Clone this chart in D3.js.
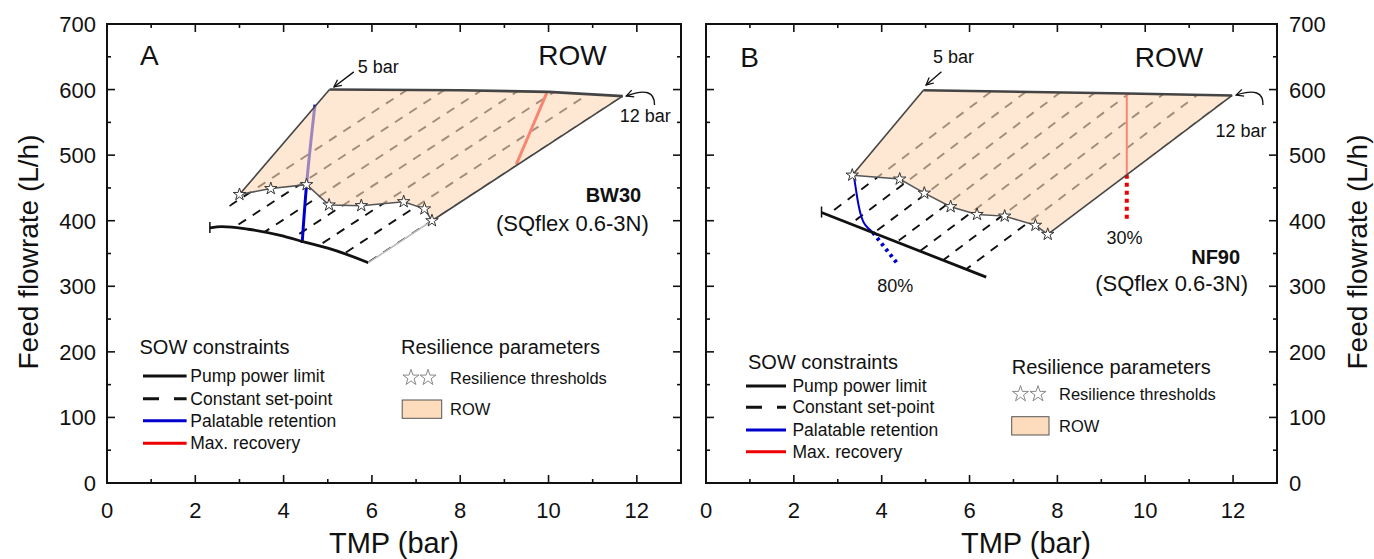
<!DOCTYPE html>
<html>
<head>
<meta charset="utf-8">
<script src="https://cdn.jsdelivr.net/npm/d3@7"></script>
<style>
  body { margin: 0; background: #fff; }
  svg { display: block; }
  text { font-family: "Liberation Sans", Arial, sans-serif; fill: #111; }
</style>
</head>
<body>
<svg id="chart" width="1374" height="559"></svg>
<script>
// ---------- shared axes ----------
const xTickLabels = [0, 2, 4, 6, 8, 10, 12];
const yTickLabels = [0, 100, 200, 300, 400, 500, 600, 700];

// ---------- Panel A : BW30 ----------
const topEdgeA    = [[5.04, 600], [8, 599], [10, 596.5], [11.68, 590]];          // 5 bar -> 12 bar
const pumpA       = [[2.33, 389], [2.6, 391], [3.2, 387], [3.9, 378], [4.5, 367], [5.2, 354], [5.92, 336]];
const thresholdsA = [[3.0, 440], [3.71, 449], [4.52, 455], [5.03, 424], [5.76, 423], [6.72, 429], [7.19, 418], [7.36, 400]];
const retentionA  = [[4.71, 577], [4.52, 455], [4.42, 366]];
const recoveryA   = [[9.96, 595], [9.6, 538], [9.27, 486]];
const setpointTmpA = [2.26, 3.11, 3.96, 4.81, 5.66, 6.51, 7.36];                 // TMP at 400 L/h
const setpointSlopeA = 44;                                                       // L/h per bar

// ---------- Panel B : NF90 ----------
const topEdgeB    = [[4.95, 599], [9.6, 594], [11.98, 591]];
const pumpB       = [[2.63, 412.5], [6.38, 314]];
const thresholdsB = [[3.33, 469.5], [4.41, 463.5], [4.97, 442], [5.57, 421.4], [6.17, 409.5], [6.8, 407], [7.5, 393], [7.78, 379.2]];
const retentionB  = [[3.37, 467], [3.42, 445], [3.47, 425], [3.53, 408], [3.62, 394], [3.77, 384], [3.9, 378]];
const retentionExtB = [[3.8, 382], [4.34, 336]];
const recoveryB   = [[9.58, 594], [9.58, 470]];
const recoveryExtB = [[9.58, 470], [9.58, 402]];
const setpointTmpB = [2.59, 3.39, 4.19, 4.99, 5.79, 6.59, 7.39, 8.19];
const setpointSlopeB = 50.5;

const svg = d3.select("#chart");
const defs = svg.append("defs");

defs.append("marker").attr("id", "openArrow")
  .attr("viewBox", "0 0 10 10").attr("refX", 9).attr("refY", 5)
  .attr("markerWidth", 9).attr("markerHeight", 9).attr("markerUnits", "userSpaceOnUse")
  .attr("orient", "auto")
  .append("path").attr("d", "M1,1 L9,5 L1,9").attr("fill", "none")
  .attr("stroke", "#111").attr("stroke-width", 1.4);

const ROW_FILL = "#fdd9b8";
const line = d3.line();

function drawPanel(cfg) {
  const x = d3.scaleLinear().domain([0, 13]).range(cfg.xr);
  const y = d3.scaleLinear().domain([0, 700]).range([483, 24]);
  const g = svg.append("g");
  const P = pts => pts.map(d => [x(d[0]), y(d[1])]);

  // operating window (region used for set-point lines)
  const region = [...cfg.topEdge, ...cfg.pump.slice().reverse()];
  const clipId = "clip" + cfg.id;
  defs.append("clipPath").attr("id", clipId)
    .append("path").attr("d", line(P(region)) + "Z");

  // constant set-point lines
  const sp = g.append("g").attr("clip-path", `url(#${clipId})`);
  cfg.setpoints.forEach(t => {
    const a = [t - 4, 400 - 4 * cfg.slope], b = [t + 8, 400 + 8 * cfg.slope];
    sp.append("path").attr("d", line(P([a, b])))
      .attr("stroke", "#111").attr("stroke-width", 1.9)
      .attr("stroke-dasharray", "9,8").attr("fill", "none");
  });

  // palatable retention & max recovery
  g.append("path").attr("d", line.curve(d3.curveMonotoneY)(P(cfg.retention)))
    .attr("stroke", "#0000cc").attr("stroke-width", cfg.retW).attr("fill", "none");
  line.curve(d3.curveLinear);
  if (cfg.retentionExt) g.append("path").attr("d", line(P(cfg.retentionExt)))
    .attr("stroke", "#0000cc").attr("stroke-width", 4).attr("stroke-dasharray", "3,4").attr("fill", "none");
  g.append("path").attr("d", line(P(cfg.recovery)))
    .attr("stroke", "#ee0000").attr("stroke-width", cfg.recW).attr("fill", "none");
  if (cfg.recoveryExt) g.append("path").attr("d", line(P(cfg.recoveryExt)))
    .attr("stroke", "#ee0000").attr("stroke-width", 4).attr("stroke-dasharray", "4,4").attr("fill", "none");

  // ROW area
  const th = cfg.thresholds;
  const row = [th[0], ...cfg.topEdge, ...th.slice().reverse()];
  g.append("path").attr("d", line(P(row)) + "Z")
    .attr("fill", ROW_FILL).attr("fill-opacity", 0.62).attr("stroke", "none");

  // pump power limit
  g.append("path").attr("d", line.curve(d3.curveMonotoneX)(P(cfg.pump)))
    .attr("stroke", "#111").attr("stroke-width", 2.8).attr("fill", "none");
  line.curve(d3.curveLinear);
  const p0 = P([cfg.pump[0]])[0];
  g.append("line").attr("x1", p0[0]).attr("x2", p0[0]).attr("y1", p0[1] - 6).attr("y2", p0[1] + 5)
    .attr("stroke", "#111").attr("stroke-width", 1.5);

  // ROW boundaries
  const last = cfg.topEdge[cfg.topEdge.length - 1];
  g.append("path").attr("d", line(P(cfg.topEdge))).attr("stroke", "#444").attr("stroke-width", 2.6).attr("fill", "none");
  g.append("path").attr("d", line(P([th[0], cfg.topEdge[0]]))).attr("stroke", "#444").attr("stroke-width", 1.6).attr("fill", "none");
  g.append("path").attr("d", line(P([last, th[th.length - 1]]))).attr("stroke", "#444").attr("stroke-width", 1.6).attr("fill", "none");
  if (cfg.lowerEdge) g.append("path").attr("d", line(P([th[th.length - 1], cfg.pump[cfg.pump.length - 1]])))
    .attr("stroke", "#bbb").attr("stroke-width", 1.6).attr("fill", "none");
  g.append("path").attr("d", line(P(th))).attr("stroke", "#555").attr("stroke-width", 1.5).attr("fill", "none");

  // resilience thresholds
  g.selectAll(".star").data(th).join("path")
    .attr("transform", d => `translate(${x(d[0])},${y(d[1])})`)
    .attr("d", d3.symbol(d3.symbolStar, 48))
    .attr("fill", "#fff").attr("stroke", "#333").attr("stroke-width", 1);

  // annotations
  const T = (d, txt, size, anchor, weight) => g.append("text")
    .attr("x", x(d[0])).attr("y", y(d[1])).attr("font-size", size)
    .attr("text-anchor", anchor || "start").attr("font-weight", weight || "normal").text(txt);
  T(cfg.ann.letter[0], cfg.ann.letter[1], 28);
  T(cfg.ann.row, "ROW", 28, "middle");
  T(cfg.ann.bar5, "5 bar", 18);
  T(cfg.ann.bar12, "12 bar", 18);
  T(cfg.ann.name[0], cfg.ann.name[1], 20, "end", "bold");
  T(cfg.ann.pump, "(SQflex 0.6-3N)", 22, "end");
  (cfg.ann.extra || []).forEach(e => T(e[0], e[1], 18, "middle"));

  g.append("path").attr("d", line(P(cfg.ann.arrow5)))
    .attr("stroke", "#111").attr("stroke-width", 1.4).attr("fill", "none").attr("marker-end", "url(#openArrow)");
  const c = P(cfg.ann.arrow12);
  g.append("path").attr("d", `M${c[0]} Q${c[1]} ${c[2]}`)
    .attr("stroke", "#111").attr("stroke-width", 1.4).attr("fill", "none").attr("marker-end", "url(#openArrow)");

  // frame and inward ticks on all sides
  const [x0, x1] = cfg.xr, y0 = 483, y1 = 24;
  const ax = g.append("g").attr("stroke", "#111").attr("stroke-width", 1.6);
  d3.range(0, 14, 1).forEach(v => {
    const L = v % 2 === 0 ? 8 : 4, px = x(v);
    ax.append("line").attr("x1", px).attr("x2", px).attr("y1", y0).attr("y2", y0 - L);
    ax.append("line").attr("x1", px).attr("x2", px).attr("y1", y1).attr("y2", y1 + L);
  });
  d3.range(0, 701, 50).forEach(v => {
    const L = v % 100 === 0 ? 8 : 4, py = y(v);
    ax.append("line").attr("x1", x0).attr("x2", x0 + L).attr("y1", py).attr("y2", py);
    ax.append("line").attr("x1", x1).attr("x2", x1 - L).attr("y1", py).attr("y2", py);
  });
  g.append("rect").attr("x", x0).attr("y", y1).attr("width", x1 - x0).attr("height", y0 - y1)
    .attr("fill", "none").attr("stroke", "#111").attr("stroke-width", 2);

  g.selectAll(".xt").data(xTickLabels).join("text")
    .attr("x", d => x(d)).attr("y", 518).attr("font-size", 22).attr("text-anchor", "middle").text(d => d);
  g.selectAll(".yt").data(yTickLabels).join("text")
    .attr("x", cfg.yLabelSide === "left" ? x0 - 11 : x1 + 12).attr("y", d => y(d) + 8)
    .attr("font-size", 22).attr("text-anchor", cfg.yLabelSide === "left" ? "end" : "start").text(d => d);

  g.append("text").attr("x", cfg.xTitleX).attr("y", 553).attr("font-size", 29)
    .attr("text-anchor", "middle").text("TMP (bar)");
  g.append("text").attr("transform", `translate(${cfg.yTitleX},252) rotate(-90)`)
    .attr("font-size", 28).attr("text-anchor", "middle").text("Feed flowrate (L/h)");

  // legend
  const lg = g.append("g");
  const L = cfg.legend;
  lg.append("text").attr("x", L.sowX).attr("y", L.sowY + 7).attr("font-size", 20).text("SOW constraints");
  const items = [
    ["Pump power limit", "#111", null],
    ["Constant set-point", "#111", "16,15"],
    ["Palatable retention", "#0000cc", null],
    ["Max. recovery", "#ee0000", null]
  ];
  items.forEach((it, i) => {
    const yy = L.rows[i];
    lg.append("line").attr("x1", L.lineX[0]).attr("x2", L.lineX[1]).attr("y1", yy).attr("y2", yy)
      .attr("stroke", it[1]).attr("stroke-width", 3).attr("stroke-dasharray", it[2]);
    lg.append("text").attr("x", L.textX).attr("y", yy + 6).attr("font-size", 17.5).text(it[0]);
  });
  lg.append("text").attr("x", L.resX).attr("y", L.resY + 7).attr("font-size", 20).text("Resilience parameters");
  L.stars.forEach(sx => lg.append("path").attr("transform", `translate(${sx},${L.starY})`)
    .attr("d", d3.symbol(d3.symbolStar, 80)).attr("fill", "#fff").attr("stroke", "#888").attr("stroke-width", 1));
  lg.append("text").attr("x", L.resTextX).attr("y", L.starY + 6).attr("font-size", 16.5).text("Resilience thresholds");
  lg.append("rect").attr("x", L.swatch[0]).attr("y", L.swatch[1]).attr("width", L.swatch[2]).attr("height", L.swatch[3])
    .attr("fill", "#fcdcbc").attr("stroke", "#555").attr("stroke-width", 1);
  lg.append("text").attr("x", L.resTextX).attr("y", L.swatch[1] + L.swatch[3] / 2 + 6).attr("font-size", 16.5).text("ROW");
}

drawPanel({
  id: "A", xr: [107, 681], topEdge: topEdgeA, pump: pumpA, thresholds: thresholdsA,
  retention: retentionA, recovery: recoveryA, setpoints: setpointTmpA, slope: setpointSlopeA,
  retW: 3, recW: 3, lowerEdge: true, yLabelSide: "left", xTitleX: 394, yTitleX: 38,
  ann: {
    letter: [[0.75, 637.5], "A"], row: [10.54, 637.5], bar5: [5.68, 625.3], bar12: [11.61, 551.3],
    name: [[12.1, 428.5], "BW30"], pump: [12.27, 384.3],
    arrow5: [[5.59, 627], [5.14, 604]], arrow12: [[12.4, 576.5], [12.41, 607], [11.76, 590.2]]
  },
  legend: { sowX: 139.5, sowY: 346.7, lineX: [143, 186.6], textX: 190.3, rows: [376, 398.7, 420.7, 443.3],
            resX: 401, resY: 346.7, stars: [411, 428], starY: 377.7, resTextX: 450, swatch: [402.2, 400, 39.5, 18.3] }
});

drawPanel({
  id: "B", xr: [706, 1277], topEdge: topEdgeB, pump: pumpB, thresholds: thresholdsB,
  retention: retentionB, retentionExt: retentionExtB, recovery: recoveryB, recoveryExt: recoveryExtB,
  setpoints: setpointTmpB, slope: setpointSlopeB,
  retW: 2, recW: 2, lowerEdge: false, yLabelSide: "right", xTitleX: 1026, yTitleX: 1367,
  ann: {
    letter: [[0.78, 634.9], "B"], row: [10.54, 634.9], bar5: [5.17, 640.5], bar12: [11.6, 528.4],
    name: [[12.16, 334.5], "NF90"], pump: [12.34, 292.8],
    arrow5: [[5.36, 627.3], [5.01, 607]], arrow12: [[12.68, 576.5], [12.7, 605.5], [12.07, 591.7]],
    extra: [[[4.31, 292], "80%"], [[9.53, 364.5], "30%"]]
  },
  legend: { sowX: 748, sowY: 361.7, lineX: [746, 786], textX: 792.4, rows: [386, 407.3, 430, 451.7],
            resX: 1011.7, resY: 366.7, stars: [1020.5, 1038], starY: 394, resTextX: 1059, swatch: [1011.7, 416.7, 37.3, 18.3] }
});
</script>
</body>
</html>
